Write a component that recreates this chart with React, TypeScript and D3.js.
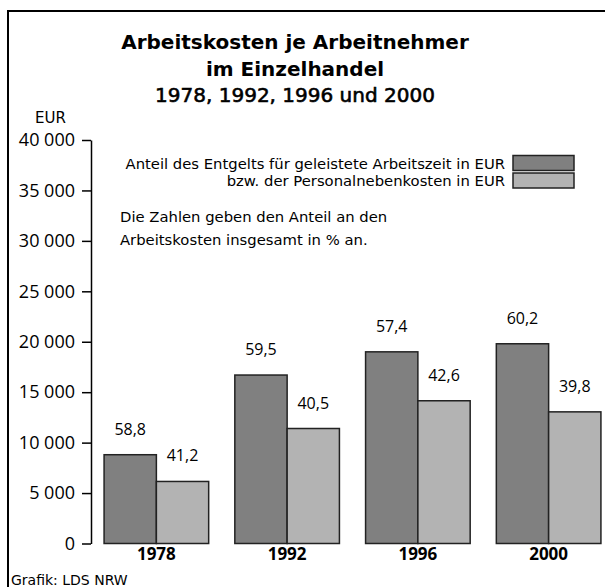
import React, { useRef, useEffect } from 'react';
import * as d3 from 'd3';

const years = ['1978', '1992', '1996', '2000'];
const entgelt = [8800, 16700, 19000, 19800];
const nebenkosten = [6150, 11400, 14150, 13050];
const entgeltPct = ['58,8', '59,5', '57,4', '60,2'];
const nebenPct = ['41,2', '40,5', '42,6', '39,8'];
const yTicks = [0, 5000, 10000, 15000, 20000, 25000, 30000, 35000, 40000];
const titleLines = ['Arbeitskosten je Arbeitnehmer', 'im Einzelhandel', '1978, 1992, 1996 und 2000'];
const legendLabels = [
  'Anteil des Entgelts für geleistete Arbeitszeit in EUR',
  'bzw. der Personalnebenkosten in EUR',
];
const noteLines = ['Die Zahlen geben den Anteil an den', 'Arbeitskosten insgesamt in % an.'];

const width = 605;
const height = 587;
const numFont = '"Open Sans", "Noto Sans", sans-serif';
const textFont = '"DejaVu Sans", sans-serif';
const dark = '#808080';
const light = '#b3b3b3';

const locale = d3.formatLocale({ decimal: ',', thousands: ' ', grouping: [3], currency: ['', ''] });
const fmt = locale.format(',');

export default function App() {
  const axisRef = useRef<SVGGElement>(null);

  const x = d3.scaleBand().domain(years).range([91, 614]).paddingInner(0.2).paddingOuter(0.1);
  const sub = d3.scaleBand().domain(['a', 'b']).range([0, x.bandwidth()]);
  const y = d3.scaleLinear().domain([0, 40000]).range([543.5, 140]);

  useEffect(() => {
    const g = d3.select(axisRef.current);
    g.selectAll('*').remove();
    g.call(
      d3.axisLeft(y).tickValues(yTicks).tickFormat((d: any) => fmt(d)).tickSize(9).tickSizeOuter(0).tickPadding(7)
    );
    g.select('.domain').attr('stroke', '#000').attr('stroke-width', 1.5);
    g.selectAll('.tick line').attr('stroke', '#000').attr('stroke-width', 1.5);
    g.selectAll('.tick text')
      .attr('fill', '#000')
      .style('font-family', numFont)
      .style('font-size', '18px');
  }, []);

  return (
    <svg width={width} height={height} style={{ position: 'absolute', left: 0, top: 0, background: '#fff' }}>
      <rect x={0} y={0} width={width} height={height} fill="#fff" />
      {/* frame */}
      <path d={`M8,${height} V11 H${width}`} fill="none" stroke="#000" strokeWidth={2} />

      {titleLines.map((t, i) => (
        <text
          key={t}
          x={295}
          y={49.3 + i * 26.5}
          textAnchor="middle"
          fontFamily={textFont}
          fontSize={20}
          fontWeight={i < 2 ? 700 : 400}
          stroke={i < 2 ? 'none' : '#000'}
          strokeWidth={0.6}
        >
          {t}
        </text>
      ))}

      <text x={35} y={123} fontFamily={textFont} fontSize={15}>EUR</text>

      <g ref={axisRef} transform="translate(91,0)" />

      {years.map((yr, i) => {
        const x0 = x(yr)!;
        const xa = x0 + sub('a')!;
        const xb = x0 + sub('b')!;
        const bw = sub.bandwidth();
        return (
          <g key={yr}>
            <rect x={xa} y={y(entgelt[i])} width={bw} height={y(0) - y(entgelt[i])} fill={dark} stroke="#222" strokeWidth={1.5} />
            <rect x={xb} y={y(nebenkosten[i])} width={bw} height={y(0) - y(nebenkosten[i])} fill={light} stroke="#222" strokeWidth={1.5} />
            <text x={xa + bw / 2} y={y(entgelt[i]) - 20} textAnchor="middle" fontFamily={numFont} fontSize={16}>
              {entgeltPct[i]}
            </text>
            <text x={xb + bw / 2} y={y(nebenkosten[i]) - 20} textAnchor="middle" fontFamily={numFont} fontSize={16}>
              {nebenPct[i]}
            </text>
            <text x={x0 + x.bandwidth() / 2} y={560} textAnchor="middle" fontFamily={numFont} fontSize={17} fontWeight={700}>
              {yr}
            </text>
          </g>
        );
      })}

      {legendLabels.map((t, i) => (
        <g key={t}>
          <text x={505} y={168.5 + i * 17} textAnchor="end" fontFamily={textFont} fontSize={14.8}>
            {t}
          </text>
          <rect x={513} y={155.5 + i * 17.5} width={61} height={15} fill={i === 0 ? dark : light} stroke="#222" strokeWidth={1.5} />
        </g>
      ))}

      {noteLines.map((t, i) => (
        <text key={t} x={120} y={222 + i * 23} fontFamily={textFont} fontSize={14.8}>
          {t}
        </text>
      ))}

      <text x={11} y={585} fontFamily={textFont} fontSize={14}>Grafik: LDS NRW</text>
    </svg>
  );
}
